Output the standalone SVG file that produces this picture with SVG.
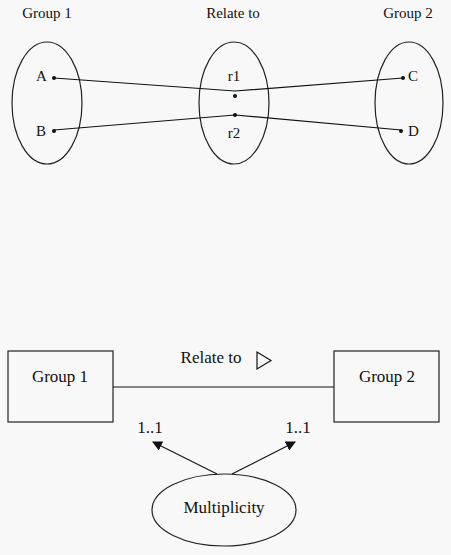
<svg xmlns="http://www.w3.org/2000/svg" width="451" height="555" viewBox="0 0 451 555">
<defs>
<style>
.t{font-family:"Liberation Serif","DejaVu Serif",serif;fill:#111;}
.s{font-size:15px;}
.b{font-size:17px;}
.ln{stroke:#111;stroke-width:1.2;fill:none;}
.sh{stroke:#222;stroke-width:1.2;fill:none;}
</style>
<marker id="ah" viewBox="0 0 10 10" refX="9" refY="5" markerWidth="10" markerHeight="10" markerUnits="userSpaceOnUse" orient="auto">
<path d="M0,0 L10,5 L0,10 z" fill="#111"/>
</marker>
</defs>
<rect width="451" height="555" fill="#f8f8f8"/>
<text class="t s" x="47" y="18" text-anchor="middle">Group 1</text>
<text class="t s" x="233" y="18" text-anchor="middle">Relate to</text>
<text class="t s" x="408" y="18" text-anchor="middle">Group 2</text>
<g id="set1">
<ellipse class="sh" cx="47" cy="103" rx="35" ry="61"/>
<text class="t s" x="36" y="81">A</text>
<circle cx="54" cy="78" r="2" fill="#111"/>
<text class="t s" x="36" y="136">B</text>
<circle cx="54" cy="131" r="2" fill="#111"/>
</g>
<g id="relset">
<ellipse class="sh" cx="234" cy="103" rx="35" ry="61"/>
<text class="t s" x="234" y="81" text-anchor="middle">r1</text>
<circle cx="235" cy="96" r="2" fill="#111"/>
<circle cx="235" cy="115" r="2" fill="#111"/>
<text class="t s" x="234" y="138" text-anchor="middle">r2</text>
</g>
<g id="set2">
<ellipse class="sh" cx="409" cy="103" rx="34" ry="61"/>
<circle cx="403" cy="78" r="2" fill="#111"/>
<text class="t s" x="408" y="81">C</text>
<circle cx="401" cy="131" r="2" fill="#111"/>
<text class="t s" x="408" y="136">D</text>
</g>
<g id="mappings">
<polyline class="ln" points="54,78 235,91 403,78"/>
<polyline class="ln" points="54,130 235,115 401,130"/>
</g>
<g id="group1">
<rect class="sh" x="8" y="351" width="105" height="71"/>
<text class="t b" x="60" y="382" text-anchor="middle">Group 1</text>
</g>
<g id="group2">
<rect class="sh" x="334" y="351" width="105" height="71"/>
<text class="t b" x="387" y="382" text-anchor="middle">Group 2</text>
</g>
<g id="multiplicity">
<ellipse class="sh" cx="224" cy="510" rx="72" ry="36"/>
<text class="t b" x="224" y="513" text-anchor="middle">Multiplicity</text>
</g>
<g id="connectors">
<line class="ln" x1="113" y1="387" x2="334" y2="387"/>
<text class="t b" x="211" y="363" text-anchor="middle">Relate to</text>
<polygon points="257,352 257,369 271,360.5" fill="none" stroke="#111" stroke-width="1.2"/>
<text class="t b" x="150" y="433" text-anchor="middle">1..1</text>
<text class="t b" x="298" y="433" text-anchor="middle">1..1</text>
<line class="ln" x1="217" y1="474" x2="153" y2="442" marker-end="url(#ah)"/>
<line class="ln" x1="232" y1="474" x2="295" y2="442" marker-end="url(#ah)"/>
</g>
</svg>
